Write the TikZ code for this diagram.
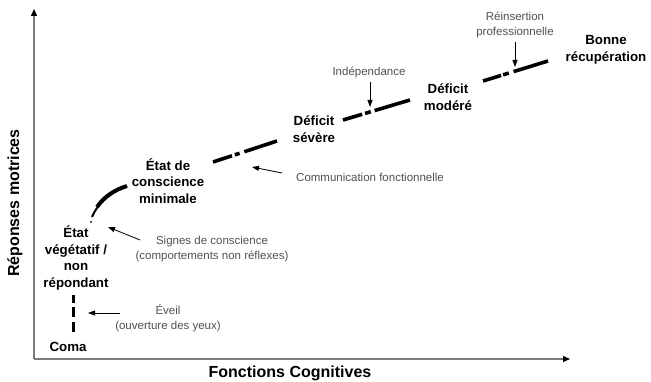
\documentclass[tikz,border=0pt]{standalone}
\usepackage{fontspec}
\setmainfont{Liberation Sans}
\usetikzlibrary{arrows.meta, calc}
\definecolor{axisgray}{HTML}{7A7A7A}
\definecolor{notegray}{HTML}{505050}
\tikzset{
  axis/.style={draw=axisgray, line width=1.4pt, -{Triangle[length=7pt, width=6pt, color=black]}},
  stage/.style={align=center, inner sep=0pt, font=\fontsize{13.3}{16.6}\selectfont\bfseries},
  axlabel/.style={inner sep=0pt, font=\fontsize{16}{19}\selectfont\bfseries},
  note/.style={align=center, inner sep=0pt, text=notegray, font=\fontsize{11.5}{14.5}\selectfont},
  notearr/.style={draw=black, line width=0.8pt, -{Triangle[length=7pt, width=5pt]}},
  track/.style={line width=3.6pt}
}

\begin{document}
\begin{tikzpicture}[x=1pt, y=-1pt]
  \useasboundingbox (0,0) rectangle (651,382);

  % axes
  \coordinate (o) at (34,359);
  \coordinate (ytop) at (34,9);
  \coordinate (xend) at (570,359);
  \draw[axis] (o) -- (ytop);
  \draw[axis] (o) -- (xend);
  \node[axlabel, rotate=90] (ylab) at (15,203) {Réponses motrices};
  \node[axlabel] (xlab) at (290,373) {Fonctions Cognitives};

  % stages
  \node[stage] (coma) at (68,347) {Coma};
  \node[stage] (veg) at (76,258) {État\\végétatif /\\non\\répondant};
  \node[stage] (mcs) at (168,181) {État de\\conscience\\minimale};
  \node[stage] (sev) at (314,129) {Déficit\\sévère};
  \node[stage] (mod) at (448,97) {Déficit\\modéré};
  \node[stage] (bonne) at (606,50) {Bonne\\récupération};

  % recovery track
  \coordinate (t0) at (73,295);
  \coordinate (t1) at (73,332);
  \draw[line width=3pt, dash pattern=on 8pt off 4pt on 10pt off 5pt on 12pt] (t0) -- (t1);
  \coordinate (c0) at (92,217);
  \coordinate (c1) at (127,186);
  \draw[line width=2pt] (c0) .. controls (97,205) and (108,193) .. (c1);
  \draw[line width=4pt] (97,207) .. controls (104,197) and (114,190) .. (c1);
  \fill (91,222) circle (1pt);
  \coordinate (a0) at (213,162);
  \coordinate (a1) at (277,141);
  \draw[track, dash pattern=on 20pt off 3pt on 5pt off 5pt on 40pt] (a0) -- (a1);
  \coordinate (b0) at (343,120);
  \coordinate (b1) at (410,100);
  \draw[track, dash pattern=on 20pt off 3pt on 6pt off 4pt on 40pt] (b0) -- (b1);
  \coordinate (d0) at (483,81);
  \coordinate (d1) at (548,61);
  \draw[track, dash pattern=on 19pt off 2pt on 6pt off 5pt on 40pt] (d0) -- (d1);

  % milestones
  \node[note] (eveil) at (168,318) {Éveil\\(ouverture des yeux)};
  \coordinate (eveilA) at (120,313);
  \coordinate (eveilB) at (88,313);
  \draw[notearr] (eveilA) -- (eveilB);
  \node[note] (signes) at (212,249) {Signes de conscience\\(comportements non réflexes)};
  \coordinate (signesA) at (140,240);
  \coordinate (signesB) at (108,227);
  \draw[notearr] (signesA) -- (signesB);
  \node[note, anchor=west] (comm) at (296,177) {Communication fonctionnelle};
  \coordinate (commA) at (282,173);
  \coordinate (commB) at (252,167);
  \draw[notearr] (commA) -- (commB);
  \node[note] (indep) at (369,72) {Indépendance};
  \coordinate (indepB) at (370,107);
  \draw[notearr] (indep.south -| indepB) ++(0,4) -- (indepB);
  \node[note] (reins) at (515,25) {Réinsertion\\professionnelle};
  \coordinate (reinsB) at (515,67);
  \draw[notearr] (reins.south) ++(0,4) -- (reinsB);
\end{tikzpicture}
\end{document}
